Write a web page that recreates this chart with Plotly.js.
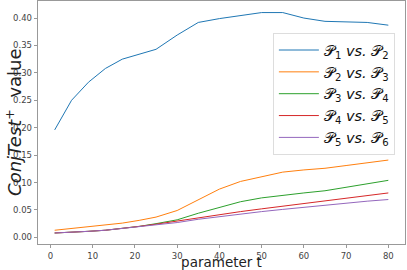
<!DOCTYPE html>
<html>
<head>
<meta charset="utf-8">
<script src="https://cdn.plot.ly/plotly-3.0.1.min.js"></script>
<style>html,body{margin:0;padding:0;background:#fff;}#chart{width:407px;height:270px;}</style>
</head>
<body>
<div id="chart"></div>
<script>
const t = [1, 5, 9, 13, 17, 21, 25, 30, 35, 40, 45, 50, 55, 60, 65, 70, 75, 80];
const p12 = [0.196, 0.250, 0.283, 0.308, 0.325, 0.334, 0.343, 0.369, 0.392, 0.399, 0.404, 0.410, 0.410, 0.400, 0.394, 0.393, 0.392, 0.387];
const p23 = [0.013, 0.016, 0.019, 0.022, 0.026, 0.031, 0.037, 0.049, 0.068, 0.088, 0.102, 0.111, 0.119, 0.123, 0.126, 0.131, 0.136, 0.141];
const p34 = [0.008, 0.009, 0.011, 0.013, 0.016, 0.020, 0.025, 0.032, 0.044, 0.055, 0.065, 0.072, 0.077, 0.081, 0.085, 0.091, 0.097, 0.104];
const p45 = [0.008, 0.009, 0.011, 0.013, 0.016, 0.020, 0.024, 0.030, 0.036, 0.042, 0.047, 0.052, 0.057, 0.062, 0.067, 0.072, 0.077, 0.081];
const p56 = [0.008, 0.009, 0.011, 0.013, 0.016, 0.019, 0.023, 0.027, 0.033, 0.038, 0.042, 0.047, 0.051, 0.055, 0.059, 0.063, 0.066, 0.069];
const names = ["\u{1D4AB}<sub>1</sub> <i>vs.</i> \u{1D4AB}<sub>2</sub>",
               "\u{1D4AB}<sub>2</sub> <i>vs.</i> \u{1D4AB}<sub>3</sub>",
               "\u{1D4AB}<sub>3</sub> <i>vs.</i> \u{1D4AB}<sub>4</sub>",
               "\u{1D4AB}<sub>4</sub> <i>vs.</i> \u{1D4AB}<sub>5</sub>",
               "\u{1D4AB}<sub>5</sub> <i>vs.</i> \u{1D4AB}<sub>6</sub>"];
const colors = ["#1f77b4", "#ff7f0e", "#2ca02c", "#d62728", "#9467bd"];
const series = [p12, p23, p34, p45, p56];
const xTicks = [0, 10, 20, 30, 40, 50, 60, 70, 80];
const yTicks = [0, 0.05, 0.10, 0.15, 0.20, 0.25, 0.30, 0.35, 0.40];
const xTitle = "parameter t";
const yTitle = "<i>ConjTest</i><sup>+</sup>\u00a0\u00a0value";

const data = series.map((s, i) => ({
  x: t, y: s, type: "scatter", mode: "lines", name: names[i],
  line: {color: colors[i], width: 1}
}));

const axisCommon = {
  showgrid: false, zeroline: false, showline: true, mirror: true,
  linecolor: "#999", linewidth: 1.3, ticks: "outside", ticklen: 3,
  tickcolor: "#999", tickwidth: 1,
  tickfont: {family: "DejaVu Sans", size: 8.5, color: "#444"}
};

const layout = {
  width: 407, height: 270,
  margin: {l: 38, r: 1.5, t: 0.5, b: 26},
  paper_bgcolor: "#fff", plot_bgcolor: "#fff",
  showlegend: true,
  legend: {
    x: 0.64, y: 0.868, xanchor: "left", yanchor: "top",
    bgcolor: "rgba(255,255,255,0.8)", bordercolor: "#ddd", borderwidth: 1,
    font: {family: "DejaVu Sans", size: 14.5, color: "#111"},
    itemwidth: 40,
    tracegroupgap: 0
  },
  xaxis: Object.assign({}, axisCommon, {
    range: [-2.95, 83.95], tickvals: xTicks, ticktext: xTicks.map(String),
    title: {text: xTitle, font: {family: "DejaVu Sans", size: 13.5, color: "#222"}, standoff: 6}
  }),
  yaxis: Object.assign({}, axisCommon, {
    range: [-0.0121, 0.4311], tickvals: yTicks, ticktext: yTicks.map(v => v.toFixed(2))
  }),
  annotations: [{
    text: yTitle, xref: "paper", yref: "paper", x: -0.067, y: 0.5,
    xanchor: "center", yanchor: "middle", textangle: -90, showarrow: false,
    font: {family: "DejaVu Sans", size: 18, color: "#222"}
  }]
};

Plotly.newPlot("chart", data, layout, {displayModeBar: false, staticPlot: true});
</script>
</body>
</html>
